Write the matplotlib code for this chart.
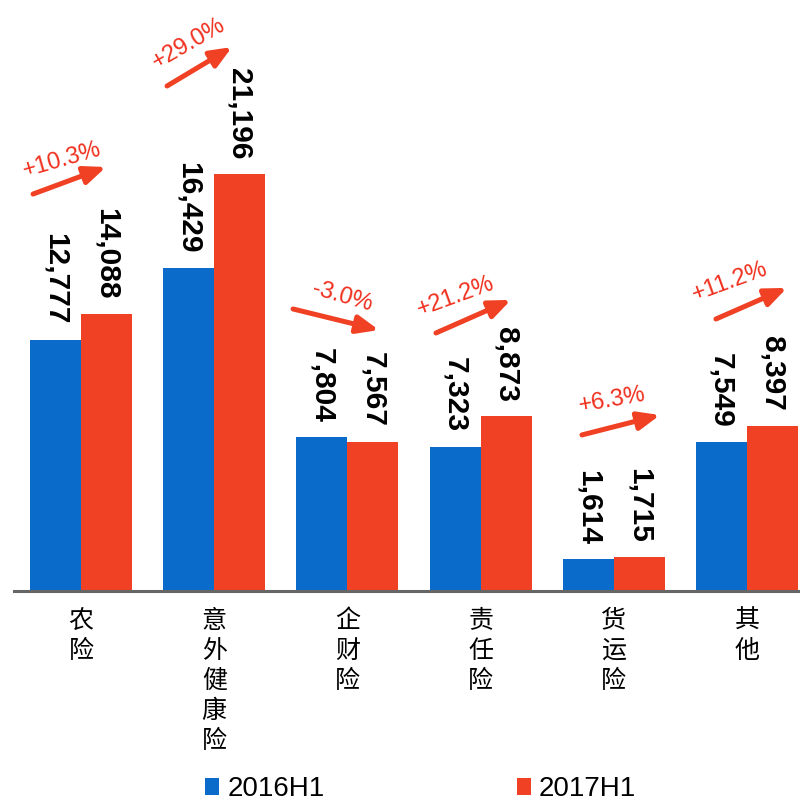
import matplotlib
matplotlib.use("Agg")
import matplotlib.pyplot as plt
from matplotlib.patches import Patch
import numpy as np

categories = ["农险", "意外健康险", "企财险", "责任险", "货运险", "其他"]
series_names = ["2016H1", "2017H1"]
values_2016 = [12777, 16429, 7804, 7323, 1614, 7549]
values_2017 = [14088, 21196, 7567, 8873, 1715, 8397]
growth_labels = ["+10.3%", "+29.0%", "-3.0%", "+21.2%", "+6.3%", "+11.2%"]

BLUE = "#0A6BCB"
RED = "#F04124"
TXT_RED = "#F0301E"

# annotation layout (data coords): arrow tail, arrow tip, text centre, text rotation
arrow_tail = [(-0.36, 20170), (0.646, 25660), (1.592, 14330), (2.665, 13110), (3.761, 7930), (4.767, 13820)]
arrow_tip = [(0.188, 21545), (1.134, 27640), (2.237, 13260), (3.228, 14790), (4.347, 8940), (5.300, 15400)]
text_pos = [(-0.143, 21900), (0.811, 27800), (1.959, 14940), (2.815, 14940), (3.986, 9700), (4.872, 15700)]
text_rot = [16, 30, -16, 20, 10, 20]

fig = plt.figure(figsize=(8.0, 8.02), dpi=100)
ax = fig.add_axes([0.018, 0.2631, 0.982, 0.7369])

x = np.arange(len(categories))
w = 0.383
b1 = ax.bar(x - w / 2, values_2016, w, color=BLUE, linewidth=0)
b2 = ax.bar(x + w / 2, values_2017, w, color=RED, linewidth=0)

ax.set_xlim(-0.5, 5.398)
ax.set_ylim(0, 30030)

for bars, vals in ((b1, values_2016), (b2, values_2017)):
    for rect, v in zip(bars, vals):
        ax.annotate(f"{v:,}", xy=(rect.get_x() + rect.get_width() / 2, v),
                    xytext=(0, 10.5), textcoords="offset points",
                    rotation=270, ha="center", va="bottom",
                    fontsize=21.5, fontweight="bold", family="Liberation Sans",
                    color="black")

for i, cat in enumerate(categories):
    ax.annotate("\n".join(cat), xy=(i, 0), xytext=(0, -12), textcoords="offset points",
                ha="center", va="top", fontsize=18, family="Noto Sans CJK SC",
                linespacing=1.21, color="black")

for tail, tip, tp, rot, lab in zip(arrow_tail, arrow_tip, text_pos, text_rot, growth_labels):
    ax.annotate("", xy=tip, xytext=tail,
                arrowprops=dict(arrowstyle="-|>,head_length=0.65,head_width=0.27",
                                mutation_scale=20, lw=3.6, color=RED,
                                shrinkA=0, shrinkB=0))
    ax.text(tp[0], tp[1], lab, rotation=rot, ha="center", va="center",
            rotation_mode="anchor", fontsize=17, family="Liberation Sans", color=TXT_RED)

for s in ("top", "right", "left"):
    ax.spines[s].set_visible(False)
ax.spines["bottom"].set_color("#666666")
ax.spines["bottom"].set_linewidth(2.2)
ax.set_xticks([])
ax.set_yticks([])
ax.patch.set_alpha(0)

handles = [Patch(facecolor=BLUE), Patch(facecolor=RED)]
fig.legend(handles, series_names, loc="center", bbox_to_anchor=(0.526, 0.016),
           ncol=2, frameon=False, prop={"family": "Liberation Sans", "size": 20},
           handlelength=0.5, handleheight=0.58, handletextpad=0.3,
           columnspacing=6.9, borderpad=0, borderaxespad=0)

fig.savefig("out.png", dpi=100)
